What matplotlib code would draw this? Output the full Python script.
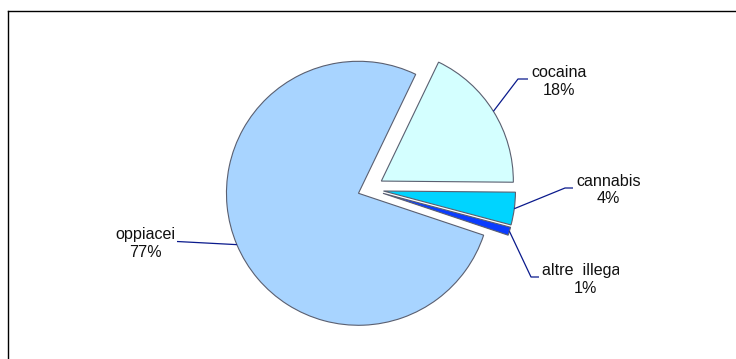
import matplotlib
matplotlib.use("Agg")
import matplotlib.pyplot as plt
import numpy as np
from matplotlib.transforms import Bbox, TransformedBbox

# ---- data ----
categories = ["oppiacei", "cocaina", "cannabis", "altre  illegali"]
shares = [77, 18, 4, 1]
pct_labels = ["77%", "18%", "4%", "1%"]
colors = ["#A8D4FF", "#D4FFFF", "#00D4FF", "#0A3CFF"]

plt.rcParams['font.family'] = ['Liberation Sans', 'DejaVu Sans']

W, H = 736, 359
fig = plt.figure(figsize=(W / 100, H / 100), dpi=100)
ax = fig.add_axes([0, 0, 1, 1])


def Y(y):
    return H - y


cx, cy = 368.6, Y(189)
R = 132
wedges, _ = ax.pie(shares, radius=R, center=(cx, cy), explode=[11, 15, 15, 15],
                   startangle=341.5, counterclock=False, colors=colors,
                   wedgeprops=dict(edgecolor="#5a5f70", linewidth=0.8))
ax.set_xlim(0, W)
ax.set_ylim(0, H)
ax.set_aspect('equal')
ax.axis('off')

# layout of labels (image pixel coords): text centre, elbow, leader end
layout = [
    dict(text=(145, 243.5), elbow=None, end=(177, 241.5)),
    dict(text=(559, 81.5), elbow=(518, 79), end=(528, 79)),
    dict(text=(608.5, 190), elbow=(565, 188), end=(573, 188)),
    dict(text=(585, 279.5), elbow=(531, 277), end=(539, 277)),
]

for w, cat, pct, lay in zip(wedges, categories, pct_labels, layout):
    th = np.deg2rad((w.theta1 + w.theta2) / 2)
    ax_x = w.center[0] + w.r * np.cos(th)
    ax_y = w.center[1] + w.r * np.sin(th)
    xs = [ax_x]
    ys = [ax_y]
    if lay['elbow'] is not None:
        xs.append(lay['elbow'][0]); ys.append(Y(lay['elbow'][1]))
    xs.append(lay['end'][0]); ys.append(Y(lay['end'][1]))
    ax.plot(xs, ys, color="#0A1A8C", lw=0.9, solid_capstyle='butt')
    t = ax.text(lay['text'][0], Y(lay['text'][1]), f"{cat}\n{pct}",
                ha='center', va='center', multialignment='center',
                fontsize=11.6, color='#111111', linespacing=1.17)
    if cat.startswith("altre"):
        t.set_clip_box(TransformedBbox(Bbox.from_extents(0, 0, 619, H), ax.transData))
        t.set_clip_on(True)

# outer frame (top and left visible)
ax.plot([7.5, 7.5], [0, Y(10.5)], color='black', lw=1.0, clip_on=False)
ax.plot([7.5, W], [Y(10.5), Y(10.5)], color='black', lw=1.0, clip_on=False)

fig.savefig("out.png", dpi=100)
